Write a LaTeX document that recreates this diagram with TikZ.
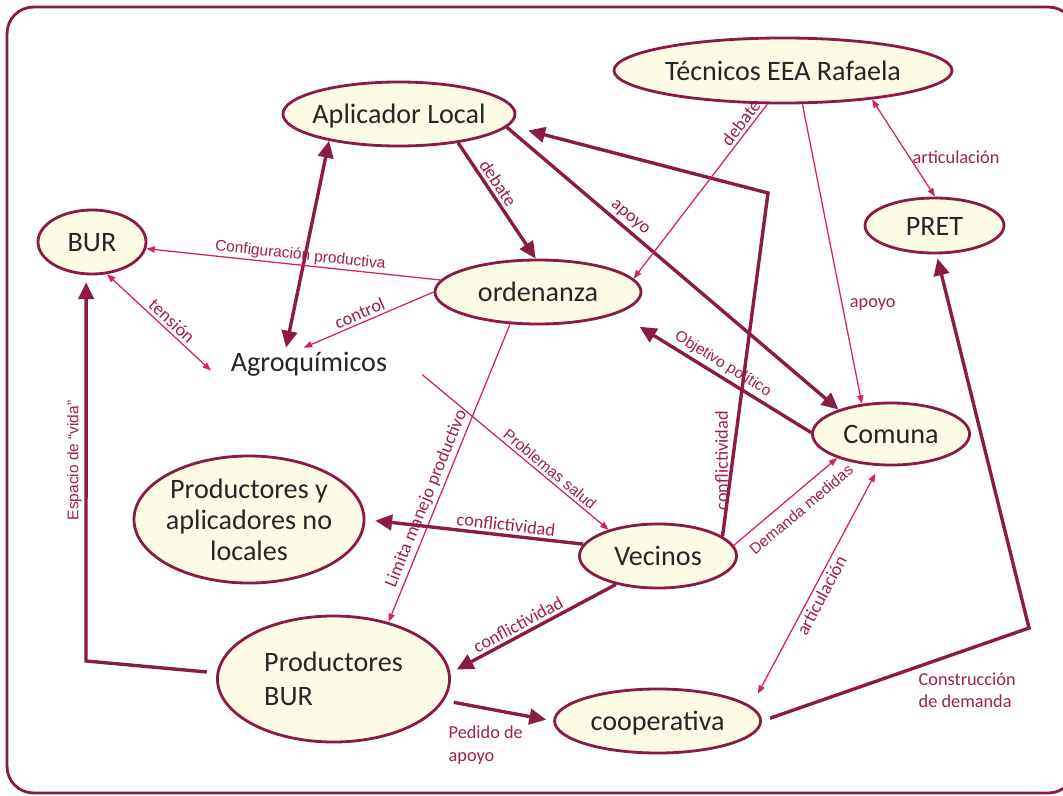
\documentclass[tikz,border=0pt]{standalone}
\usepackage{fontspec}
\setmainfont{Carlito}
\newfontfamily\arialfont{Liberation Sans}
\usetikzlibrary{shapes.geometric,arrows.meta}

\definecolor{wine}{HTML}{8C1A47}
\definecolor{rose}{HTML}{D62357}
\definecolor{lblred}{HTML}{9E1F4E}
\definecolor{cream}{HTML}{FDFBE6}

\tikzset{
  actor/.style={ellipse, draw=wine, line width=2pt, fill=cream, text=black!85,
    font=\fontsize{20}{22}\selectfont, inner xsep=-20pt, inner ysep=0pt},
  single/.style={text height=14pt, text depth=0pt},
  strong/.style={draw=wine, line width=2.4pt, >={Triangle[length=12pt,width=11pt]}},
  weak/.style={draw=rose, line width=0.9pt, >={Triangle[length=6pt,width=4.5pt]}},
  lbl/.style={font=\fontsize{13}{16}\selectfont, text=lblred, inner sep=2pt},
  albl/.style={font=\arialfont\fontsize{11}{13}\selectfont, text=lblred, inner sep=2pt},
}

\begin{document}
\begin{tikzpicture}[x=0.025cm, y=-0.025cm]
  \useasboundingbox (0,0) rectangle (1063,795);

  % Actors
  \node[actor, single, minimum width=8.45cm, minimum height=1.625cm] (tec) at (783,70.5) {Técnicos EEA Rafaela};
  \node[actor, single, minimum width=5.8cm, minimum height=1.6cm] (apl) at (399,114) {Aplicador Local};
  \node[actor, single, minimum width=2.7cm, minimum height=1.6cm] (bur) at (92,242) {BUR};
  \node[actor, single, minimum width=3.475cm, minimum height=1.375cm] (pret) at (934.5,225.5) {PRET};
  \node[actor, single, minimum width=5.15cm, minimum height=1.6cm] (ord) at (538,292) {ordenanza};
  \node[single, text=black!85, font=\fontsize{20}{22}\selectfont, inner xsep=14pt, inner ysep=3pt] (agro) at (309,362) {Agroquímicos};
  \node[actor, single, minimum width=3.925cm, minimum height=1.55cm] (com) at (891,434) {Comuna};
  \node[actor, align=center, minimum width=5.75cm, minimum height=3.175cm] (pyanl) at (249,519.5) {Productores y\\aplicadores no\\locales};
  \node[actor, single, minimum width=3.925cm, minimum height=1.6cm] (vec) at (658,556) {Vecinos};
  \node[actor, align=left, font=\fontsize{20}{24}\selectfont, minimum width=5.8cm, minimum height=3.15cm] (pbur) at (333.5,679) {Productores\\BUR};
  \node[actor, single, minimum width=5.15cm, minimum height=1.6cm] (coop) at (657.6,721) {cooperativa};

  % Bends
  \coordinate (bendA) at (768,193);
  \coordinate (bendB) at (1029,628);
  \coordinate (bendC) at (86,661);

  % Links
  \draw[strong, <->] (apl.201) -- (agro.148);
  \draw[strong, ->] (apl.-26) -- node[lbl, sloped, above, pos=0.4] {debate} (ord.94);
  \draw[strong, ->] (apl.-7) -- node[lbl, sloped, above, pos=0.35] {apoyo} (com.155);
  \draw[strong, ->, shorten >=14pt] (vec.17) -- node[lbl, rotate=90, anchor=south, pos=0.22] {conflictividad} (bendA) -- (apl.-6);
  \draw[weak, ->] (tec.-115) -- node[lbl, sloped, above, pos=0.14] {debate} (ord.8);
  \draw[weak, ->] (tec.-60) -- node[lbl, right=3pt, pos=0.67] {apoyo} (com.134);
  \draw[weak, <->] (tec.-18) -- node[lbl, right, pos=0.59] {articulación} (pret.89);
  \draw[strong, ->, shorten <=6pt, shorten >=3pt] (coop.east) -- node[lbl, pos=0.57, anchor=north west, align=left] {Construcción\\de demanda} (bendB) -- (pret.-86);
  \draw[weak, ->] (ord.173) -- node[albl, sloped, above, pos=0.48, inner sep=1pt] {Configuración productiva} (bur.-7);
  \draw[weak, ->] (ord.180) -- node[lbl, sloped, above, pos=0.54] {control} (agro.110);
  \draw[weak, <->] (bur.-65) -- node[lbl, sloped, above, pos=0.56] {tensión} (agro.185);
  \draw[weak, ->, shorten <=14pt] (agro.east) -- node[albl, sloped, above, pos=0.68] {Problemas salud} (vec.152);
  \draw[strong, ->, shorten >=18pt] (com.179) -- node[albl, sloped, above, pos=0.49] {Objetivo político} (ord.-15);
  \draw[weak, ->] (ord.229) -- node[lbl, sloped, above, pos=0.6] {Limita manejo productivo} (pbur.46);
  \draw[strong, ->, shorten >=7pt] (vec.171) -- node[lbl, sloped, above, pos=0.36] {conflictividad} (pyanl.east);
  \draw[strong, ->, shorten >=5pt] (vec.214) -- node[lbl, sloped, above, pos=0.56] {conflictividad} (pbur.3);
  \draw[weak, ->] (vec.8) -- node[albl, sloped, below=5pt, pos=0.55] {Demanda medidas} (com.204);
  \draw[weak, <->, shorten <=10pt, shorten >=6pt] (coop.9) -- node[lbl, sloped, below, pos=0.48] {articulación} (com.250);
  \draw[strong, ->, shorten <=7pt, shorten >=5pt] (pbur.-11) -- node[lbl, at start, anchor=north west, yshift=-15pt, align=left] {Pedido de\\apoyo} (coop.west);
  \draw[strong, ->, shorten <=7pt, shorten >=5pt] (pbur.177) -- (bendC) -- node[albl, sloped, above, pos=0.52] {Espacio de “vida”} (bur.260);

  % Frame
  \draw[wine, line width=2pt, rounded corners=19pt] (7,7) rectangle (1075,793);
\end{tikzpicture}
\end{document}
